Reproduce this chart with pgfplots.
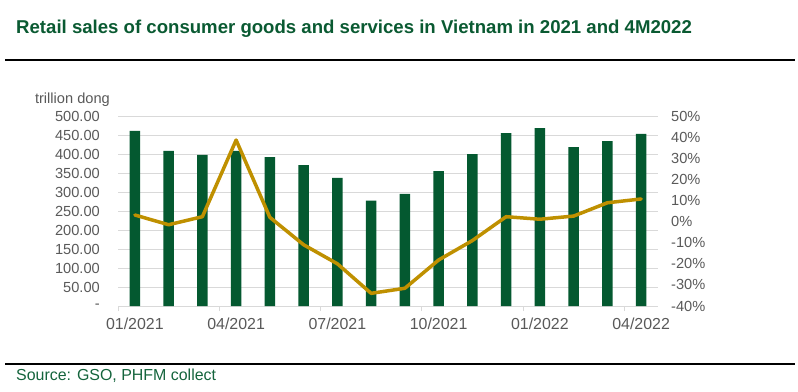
\documentclass[border=0pt]{standalone}
\usepackage{fontspec}
\setmainfont{Liberation Sans}
\usepackage{pgfplots}
\pgfplotsset{compat=1.18}
\definecolor{bargreen}{RGB}{4,89,48}
\definecolor{linegold}{RGB}{191,144,0}
\definecolor{titlegreen}{RGB}{10,90,50}
\definecolor{srcgreen}{RGB}{20,100,60}
\definecolor{ticklab}{RGB}{89,89,89}
\definecolor{gridgray}{RGB}{217,217,217}
\newcommand{\tickfont}{\fontsize{14.67}{16}\selectfont}
\newcommand{\xtickfont}{\fontsize{16}{18}\selectfont}
\begin{document}
\begin{tikzpicture}[x=1bp,y=1bp]
\path[use as bounding box] (0,0) rectangle (798,391);
\node[anchor=base west, inner sep=0, text=titlegreen, font=\fontsize{18.67}{21}\selectfont\bfseries] at (16,358) {Retail sales of consumer goods and services in Vietnam in 2021 and 4M2022};
\draw[black, line width=1.2bp] (5,331) -- (795,331);
\draw[black, line width=1.2bp] (5,27) -- (795,27);
\node[anchor=base west, inner sep=0, text=srcgreen, font=\fontsize{16}{18}\selectfont] at (16,11) {Source: GSO, PHFM collect};
\node[anchor=base east, inner sep=0, text=ticklab, font=\tickfont] at (110,288) {trillion dong};

\begin{axis}[
  at={(118bp,85bp)}, anchor=south west,
  scale only axis, width=540bp, height=190bp,
  xmin=-0.5, xmax=15.5, ymin=0, ymax=500,
  axis x line*=bottom, axis y line*=left,
  axis line style={draw=none},
  ymajorgrids, grid style={gridgray, line width=0.8bp},
  ytick={0,50,...,500},
  yticklabels={-\hspace{7bp},50.00,100.00,150.00,200.00,250.00,300.00,350.00,400.00,450.00,500.00},
  ytick style={draw=none},
  yticklabel style={font=\tickfont, text=ticklab, anchor=east, inner sep=0pt, xshift=-18bp},
  xtick={0,3,6,9,12,15},
  xticklabels={01/2021,04/2021,07/2021,10/2021,01/2022,04/2022},
  xtick style={draw=none},
  xticklabel style={font=\xtickfont, text=ticklab, anchor=north, inner sep=0pt, yshift=-12bp},
  extra x ticks={-0.5,2.5,5.5,8.5,11.5,14.5},
  extra x tick labels={},
  extra x tick style={xtick style={draw=gridgray, line width=0.8bp}, major tick length=5bp, tick align=outside},
]
\draw[gridgray, line width=0.8bp] (axis cs:-0.5,0) -- (axis cs:15.5,0);
\addplot[ybar, bar width=10.5bp, fill=bargreen, draw=none] coordinates {
(0,461) (1,408) (2,398) (3,408) (4,392) (5,371) (6,337) (7,277)
(8,295) (9,355) (10,400) (11,455) (12,468) (13,418) (14,434) (15,453)};
\end{axis}

\begin{axis}[
  at={(118bp,85bp)}, anchor=south west,
  scale only axis, width=540bp, height=190bp,
  xmin=-0.5, xmax=15.5, ymin=-40, ymax=50,
  axis y line*=right, axis x line=none,
  axis line style={draw=none},
  ytick={-40,-30,...,50},
  yticklabels={-40\%,-30\%,-20\%,-10\%,0\%,10\%,20\%,30\%,40\%,50\%},
  ytick style={draw=none},
  yticklabel style={font=\tickfont, text=ticklab, anchor=west, inner sep=0pt, xshift=13bp},
]
\addplot[linegold, line width=3.5bp, line join=round, line cap=round] coordinates {
(0,3.1) (1,-1.5) (2,2.3) (3,38.6) (4,2.0) (5,-11) (6,-20) (7,-34)
(8,-31.6) (9,-18.2) (10,-9) (11,2.3) (12,1.1) (13,2.6) (14,8.9) (15,10.7)};
\end{axis}
\end{tikzpicture}
\end{document}
